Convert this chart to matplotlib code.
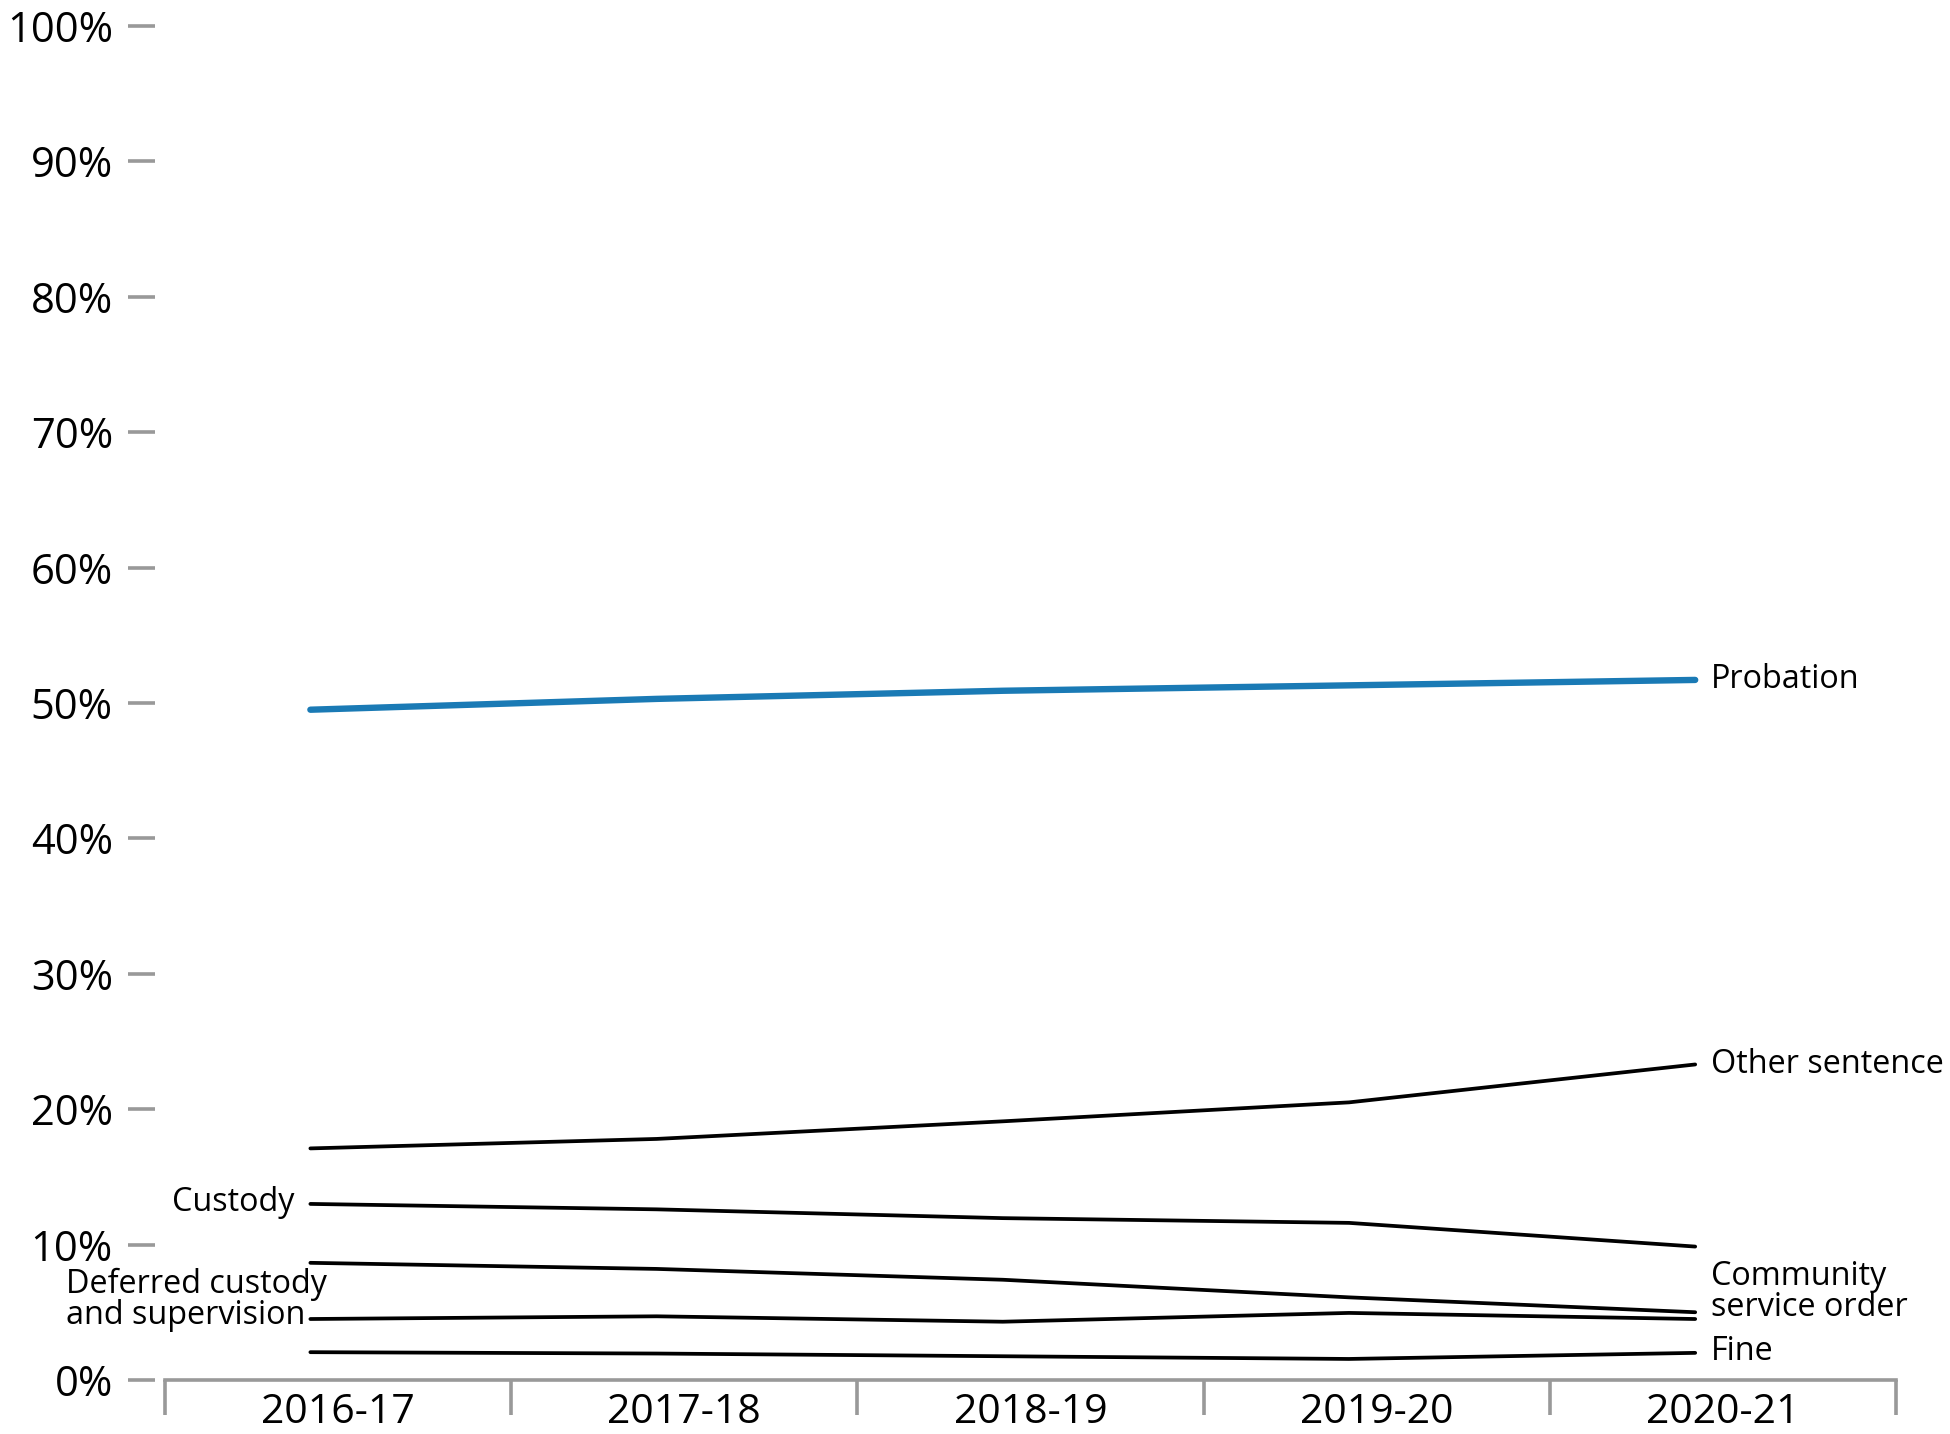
import matplotlib.pyplot as plt
import numpy as np

plt.rcParams['font.family'] = ['Open Sans', 'DejaVu Sans']

years = ['2016-17', '2017-18', '2018-19', '2019-20', '2020-21']

probation = [49.5, 50.3, 50.9, 51.3, 51.7]
other_sentence = [17.1, 17.8, 19.1, 20.5, 23.3]
custody = [13.0, 12.6, 11.95, 11.6, 9.85]
community_service = [8.65, 8.2, 7.4, 6.1, 5.0]
deferred_custody = [4.5, 4.7, 4.3, 4.95, 4.5]
fine = [2.05, 1.95, 1.75, 1.55, 2.0]

y_ticks = [0, 10, 20, 30, 40, 50, 60, 70, 80, 90, 100]

fig = plt.figure(figsize=(19.5, 14.34), dpi=100)
ax = fig.add_axes([0.0846, 0.0377, 0.8877, 0.9442])

# line points sit a bit left of the category centres
x = np.arange(len(years)) + 0.42

ax.plot(x, probation, color='#1a7ab5', lw=4.6, solid_capstyle='round')
for series in [other_sentence, custody, community_service, deferred_custody, fine]:
  ax.plot(x, series, color='black', lw=2.7, solid_capstyle='round')

fs = 23.3
# labels at the right end
lx = x[-1] + 0.045
ax.text(lx, probation[-1], 'Probation', fontsize=fs, va='center', ha='left')
ax.text(lx, other_sentence[-1], 'Other sentence', fontsize=fs, va='center', ha='left')
ax.text(lx, 6.5, 'Community\nservice order', fontsize=fs, va='center', ha='left', linespacing=0.92)
ax.text(lx, fine[-1] + 0.1, 'Fine', fontsize=fs, va='center', ha='left')

# labels at the left end
ax.text(x[0] - 0.045, custody[0] + 0.1, 'Custody', fontsize=fs, va='center', ha='right')
ax.text(0.467, 5.9, 'Deferred custody\nand supervision', fontsize=fs, va='center', ha='right',
        multialignment='left', linespacing=0.92)

ax.set_xlim(0, 5)
ax.set_ylim(0, 100)
ax.set_yticks(y_ticks)
ax.set_yticklabels([f'{v}%' for v in y_ticks])

ax.set_xticks(np.arange(6))
ax.set_xticklabels([])
ax.set_xticks(np.arange(5) + 0.5, minor=True)
ax.set_xticklabels(years, minor=True)

ax.tick_params(axis='x', which='major', length=25, width=2.6, color='#999999', direction='out')
ax.tick_params(axis='x', which='minor', length=0, pad=9, labelsize=29.5)
ax.tick_params(axis='y', length=19.5, width=2.6, color='#999999', pad=11, labelsize=30)

ax.spines['top'].set_visible(False)
ax.spines['right'].set_visible(False)
ax.spines['left'].set_position(('outward', 7))
ax.spines['left'].set_color('none')
ax.spines['bottom'].set_color('#999999')
ax.spines['bottom'].set_linewidth(2.6)

fig.savefig('out.png', dpi=100)
